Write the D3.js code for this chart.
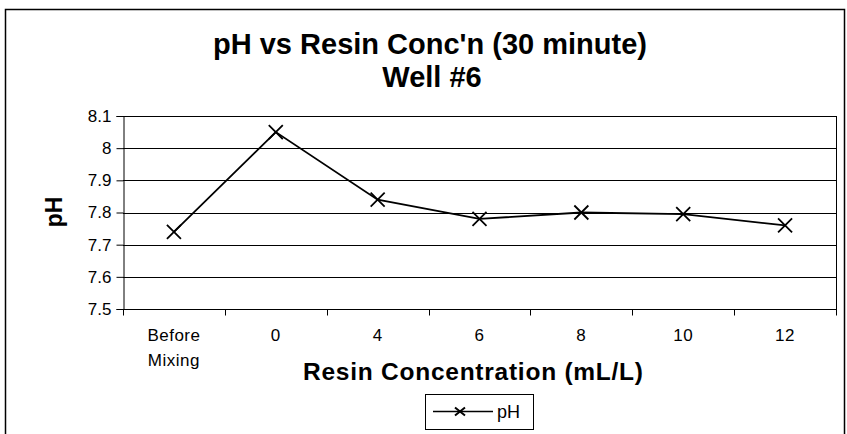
<!DOCTYPE html>
<html>
<head>
<meta charset="utf-8">
<script src="https://cdn.jsdelivr.net/npm/d3@7"></script>
<style>
  html, body { margin: 0; padding: 0; background: #fff; }
  svg { display: block; }
  text { font-family: "Liberation Sans", Arial, sans-serif; fill: #000; }
</style>
</head>
<body>
<svg id="chart" width="847" height="434"></svg>
<script>
// pH readings after 30 minutes, Well #6
const categories = ["Before Mixing", "0", "4", "6", "8", "10", "12"];
const phValues = [7.74, 8.05, 7.84, 7.78, 7.80, 7.795, 7.76];
const yTicks = [7.5, 7.6, 7.7, 7.8, 7.9, 8.0, 8.1];

const titleLines = ["pH vs Resin Conc'n (30 minute)", "Well #6"];
const xTitle = "Resin Concentration (mL/L)";
const yTitle = "pH";
const seriesName = "pH";

const svg = d3.select("#chart");
const plot = { left: 123, right: 836, top: 116, bottom: 309 };

// outer chart frame
svg.append("rect")
  .attr("x", 5.5).attr("y", 9.5)
  .attr("width", 839).attr("height", 440)
  .attr("fill", "none").attr("stroke", "#000").attr("stroke-width", 1.5);

const x = d3.scaleBand().domain(categories).range([plot.left, plot.right]).padding(0);
const y = d3.scaleLinear().domain([7.5, 8.1]).range([plot.bottom, plot.top]);

// horizontal gridlines
svg.append("g").selectAll("line").data(yTicks).join("line")
  .attr("x1", plot.left).attr("x2", plot.right)
  .attr("y1", d => Math.round(y(d)) + 0.5).attr("y2", d => Math.round(y(d)) + 0.5)
  .attr("stroke", "#000").attr("stroke-width", 1);

// plot area border (right side)
svg.append("line")
  .attr("x1", plot.right + 0.5).attr("x2", plot.right + 0.5)
  .attr("y1", plot.top).attr("y2", plot.bottom + 1)
  .attr("stroke", "#000").attr("stroke-width", 1);

// y axis
const yAxis = d3.axisLeft(y).tickValues(yTicks).tickSize(7).tickPadding(5)
  .tickFormat(d3.format(".1~f"));
const yg = svg.append("g").attr("transform", `translate(${plot.left + 0.5},0)`).call(yAxis);
yg.select(".domain").attr("stroke", "#000");
yg.selectAll(".tick line").attr("stroke", "#000");
yg.selectAll(".tick text").attr("font-size", 17).attr("font-family", "Liberation Sans, Arial, sans-serif");

// x axis: ticks at category boundaries
const xg = svg.append("g").attr("transform", `translate(0,${Math.round(plot.bottom) + 0.5})`);
xg.append("line").attr("x1", plot.left).attr("x2", plot.right + 1)
  .attr("stroke", "#000");
const boundaries = categories.map(c => x(c)).concat([x(categories[categories.length - 1]) + x.bandwidth()]);
xg.selectAll("line.tk").data(boundaries).join("line").attr("class", "tk")
  .attr("x1", d => Math.round(d) + 0.5).attr("x2", d => Math.round(d) + 0.5)
  .attr("y1", 0).attr("y2", 6).attr("stroke", "#000");
const xl = xg.selectAll("text.lbl").data(categories).join("text").attr("class", "lbl")
  .attr("x", d => x(d) + x.bandwidth() / 2)
  .attr("y", 31)
  .attr("text-anchor", "middle")
  .attr("font-size", 17)
  .attr("letter-spacing", 0.5);
xl.each(function(d) {
  const words = d.split(" ");
  const t = d3.select(this);
  words.forEach((w, i) => {
    t.append("tspan").attr("x", x(d) + x.bandwidth() / 2).attr("dy", i === 0 ? 0 : 25).text(w);
  });
});

// data line
const line = d3.line()
  .x((d, i) => x(categories[i]) + x.bandwidth() / 2)
  .y(d => y(d));
svg.append("path").datum(phValues)
  .attr("d", line).attr("fill", "none").attr("stroke", "#000").attr("stroke-width", 1.8);

// X markers
const m = 7;
const marks = svg.append("g").selectAll("g").data(phValues).join("g")
  .attr("transform", (d, i) => `translate(${x(categories[i]) + x.bandwidth() / 2},${y(d)})`);
marks.append("path").attr("d", `M${-m},${-m}L${m},${m}M${-m},${m}L${m},${-m}`)
  .attr("stroke", "#000").attr("stroke-width", 1.8).attr("fill", "none");

// titles
svg.append("text").attr("x", 430).attr("y", 54).attr("text-anchor", "middle")
  .attr("font-size", 29).attr("font-weight", "bold").text(titleLines[0]);
svg.append("text").attr("x", 432).attr("y", 87).attr("text-anchor", "middle")
  .attr("font-size", 29).attr("font-weight", "bold").text(titleLines[1]);

svg.append("text").attr("x", 473).attr("y", 380).attr("text-anchor", "middle")
  .attr("font-size", 24.5).attr("font-weight", "bold")
  .attr("textLength", 340).attr("lengthAdjust", "spacing").text(xTitle);

svg.append("text").attr("transform", "translate(62,212) rotate(-90)")
  .attr("text-anchor", "middle").attr("font-size", 23).attr("font-weight", "bold").text(yTitle);

// legend
const lg = svg.append("g");
lg.append("rect").attr("x", 425.5).attr("y", 394.5).attr("width", 108).attr("height", 35)
  .attr("fill", "#fff").attr("stroke", "#000").attr("stroke-width", 1);
lg.append("line").attr("x1", 433).attr("x2", 493).attr("y1", 411.5).attr("y2", 411.5)
  .attr("stroke", "#000").attr("stroke-width", 1.6);
lg.append("path").attr("d", `M${460 - 5},${411.5 - 4}L${460 + 5},${411.5 + 4}M${460 - 5},${411.5 + 4}L${460 + 5},${411.5 - 4}`)
  .attr("stroke", "#000").attr("stroke-width", 2);
lg.append("text").attr("x", 497).attr("y", 418).attr("font-size", 18).text(seriesName);
</script>
</body>
</html>
